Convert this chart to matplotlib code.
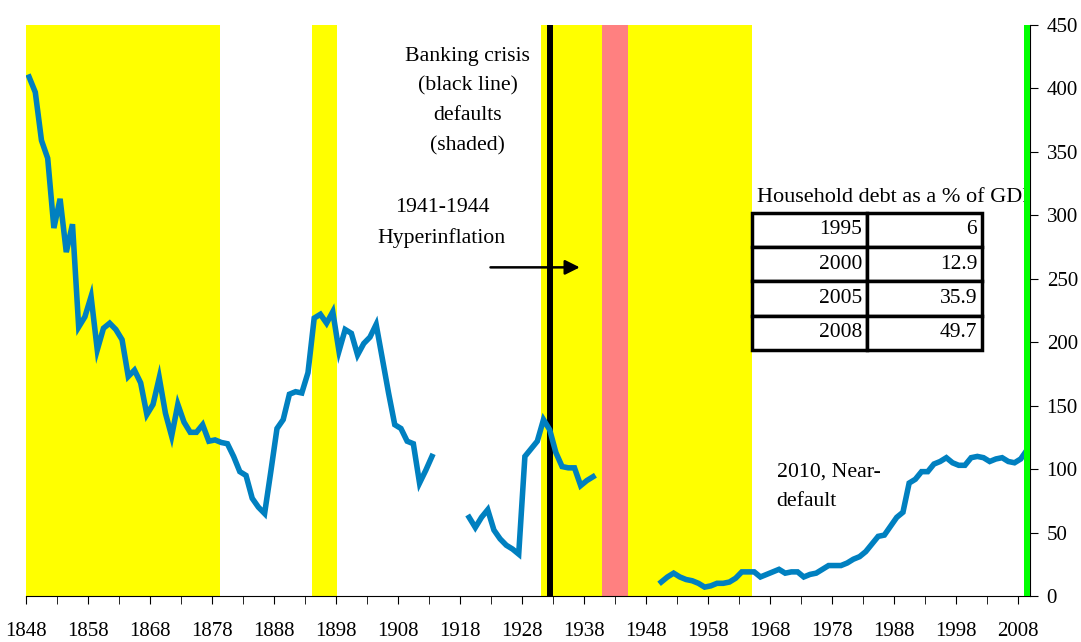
import numpy as np
import matplotlib
matplotlib.use("Agg")
import matplotlib.pyplot as plt

plt.rcParams['font.family'] = ['Liberation Serif', 'DejaVu Serif']

# public debt, % of GDP
years_a = list(range(1848, 1914))
debt_a = [409, 397, 359, 345, 290, 313, 271, 293, 212, 220,
          236, 194, 211, 215, 210, 202, 173, 178, 168, 143,
          151, 172, 144, 126, 151, 137, 129, 129, 135, 122,
          123, 121, 120, 110, 98, 95, 77, 70, 65, 98,
          132, 139, 159, 161, 160, 176, 219, 222, 215, 224,
          193, 210, 207, 190, 199, 204, 214, 187, 160, 135,
          132, 122, 120, 89, 99, 110]

years_b = list(range(1919, 1940))
debt_b = [62, 54, 62, 68, 52, 45, 40, 37, 33, 110,
          116, 122, 139, 131, 113, 102, 101, 101, 87, 91, 94]

years_c = list(range(1950, 2010))
debt_c = [11, 15, 18, 15, 13, 12, 10, 7, 8, 10,
          10, 11, 14, 19, 19, 19, 15, 17, 19, 21,
          18, 19, 19, 15, 17, 18, 21, 24, 24, 24,
          26, 29, 31, 35, 41, 47, 48, 55, 62, 66,
          89, 92, 98, 98, 104, 106, 109, 105, 103, 103,
          109, 110, 109, 106, 108, 109, 106, 105, 108, 115]

default_periods = [(1848, 1879.3), (1894.1, 1898.2), (1931.1, 1965.1)]
hyperinflation = (1941, 1945.1)
banking_crisis = 1932.5

hh_years = ['1995', '2000', '2005', '2008']
hh_debt = ['6', '12.9', '35.9', '49.7']

fig = plt.figure(figsize=(10.81, 6.42), dpi=100)
ax = fig.add_axes([26/1081, 1 - 596/642, 1004/1081, 571/642])

for a, b in default_periods:
    ax.axvspan(a, b, color='#FFFF00', lw=0, zorder=0)
ax.axvspan(*hyperinflation, color='#FF8080', lw=0, zorder=0)
ax.axvline(banking_crisis, color='black', lw=4.3, zorder=1)
ax.axvspan(2009, 2010, color='#00FF00', lw=0, zorder=4)

for yrs, vals in [(years_a, debt_a), (years_b, debt_b), (years_c, debt_c)]:
    ax.plot(np.array(yrs) + 0.5, vals, color='#0080C0', lw=4,
            solid_joinstyle='miter', zorder=3)

ax.set_xlim(1848, 2010)
ax.set_ylim(0, 450)

ax.set_xticks(range(1848, 2010, 10))
ax.set_xticks(range(1853, 2010, 10), minor=True)
ax.yaxis.tick_right()
ax.set_yticks(range(0, 451, 50))
ax.tick_params(axis='x', which='both', direction='out', length=6, labelsize=15, pad=13)
ax.tick_params(axis='y', direction='out', length=6, labelsize=15, pad=6)
for s in ['left', 'top']:
    ax.spines[s].set_visible(False)

fs = 15.7
ax.text(1919.3, 390, 'Banking crisis\n(black line)\ndefaults\n(shaded)', ha='center',
        va='center', fontsize=fs, linespacing=1.75)
ax.text(1915.1, 294, '1941-1944\nHyperinflation', ha='center', va='center',
        fontsize=fs, linespacing=1.75)
ax.annotate('', xy=(1937.8, 259), xytext=(1922.5, 259),
            arrowprops=dict(arrowstyle='-|>', color='black', lw=1.8, mutation_scale=22))
ax.text(1969.1, 86, '2010, Near-\ndefault', ha='left', va='center', fontsize=fs,
        linespacing=1.75)

ax.text(1965.9, 314, 'Household debt as a % of GDP', ha='left', va='center',
        fontsize=16, zorder=3, clip_on=True)
tbl = ax.table(cellText=[[y, v] for y, v in zip(hh_years, hh_debt)], cellLoc='right',
               bbox=[0.723, 0.431, 0.229, 0.240], zorder=5)
tbl.auto_set_font_size(False)
for cell in tbl.get_celld().values():
    cell.set_linewidth(2.5)
    cell.set_facecolor('white')
    cell.PAD = 0.04
    cell.get_text().set_fontsize(15.5)

fig.savefig('out.png', dpi=100)
